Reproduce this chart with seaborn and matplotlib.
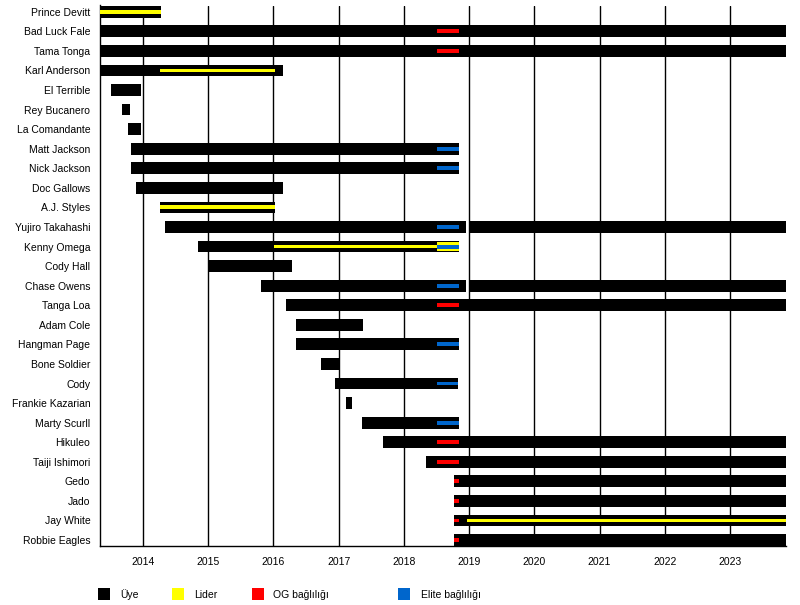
import matplotlib
matplotlib.use("Agg")
import matplotlib.pyplot as plt
from matplotlib.patches import Rectangle
import seaborn as sns
import pandas as pd

# ---------------- data ----------------
START = 2013.34   # founding (left edge)
NOW = 2023.86     # ongoing (right edge)

names = ["Prince Devitt", "Bad Luck Fale", "Tama Tonga", "Karl Anderson", "El Terrible",
         "Rey Bucanero", "La Comandante", "Matt Jackson", "Nick Jackson", "Doc Gallows",
         "A.J. Styles", "Yujiro Takahashi", "Kenny Omega", "Cody Hall", "Chase Owens",
         "Tanga Loa", "Adam Cole", "Hangman Page", "Bone Soldier", "Cody",
         "Frankie Kazarian", "Marty Scurll", "Hikuleo", "Taiji Ishimori", "Gedo",
         "Jado", "Jay White", "Robbie Eagles"]

member_name = ["Prince Devitt", "Bad Luck Fale", "Tama Tonga", "Karl Anderson", "El Terrible",
               "Rey Bucanero", "La Comandante", "Matt Jackson", "Nick Jackson", "Doc Gallows",
               "A.J. Styles", "Yujiro Takahashi", "Yujiro Takahashi", "Kenny Omega", "Cody Hall",
               "Chase Owens", "Chase Owens", "Tanga Loa", "Adam Cole", "Hangman Page",
               "Bone Soldier", "Cody", "Frankie Kazarian", "Marty Scurll", "Hikuleo",
               "Taiji Ishimori", "Gedo", "Jado", "Jay White", "Robbie Eagles"]
member_start = [START, START, START, START, 2013.51,
                2013.68, 2013.77, 2013.82, 2013.82, 2013.89,
                2014.26, 2014.34, 2019.00, 2014.84, 2015.00,
                2015.81, 2019.00, 2016.19, 2016.35, 2016.35,
                2016.73, 2016.94, 2017.11, 2017.36, 2017.68,
                2018.34, 2018.77, 2018.77, 2018.77, 2018.77]
member_end = [2014.28, NOW, NOW, 2016.15, 2013.97,
              2013.80, 2013.97, 2018.85, 2018.85, 2016.14,
              2016.02, 2018.95, NOW, 2018.85, 2016.28,
              2018.95, NOW, NOW, 2017.37, 2018.85,
              2017.01, 2018.83, 2017.20, 2018.85, NOW,
              NOW, NOW, NOW, NOW, NOW]

leader_name = ["Prince Devitt", "Karl Anderson", "A.J. Styles", "Kenny Omega", "Jay White"]
leader_start = [START, 2014.26, 2014.26, 2016.01, 2018.97]
leader_end = [2014.28, 2016.02, 2016.02, 2018.85, NOW]

og_name = ["Bad Luck Fale", "Tama Tonga", "Tanga Loa", "Hikuleo", "Taiji Ishimori",
           "Gedo", "Jado", "Jay White", "Robbie Eagles"]
og_start = [2018.51, 2018.51, 2018.51, 2018.51, 2018.51, 2018.77, 2018.77, 2018.77, 2018.77]
og_end = [2018.85, 2018.85, 2018.85, 2018.85, 2018.85, 2018.85, 2018.85, 2018.85, 2018.85]

elite_name = ["Matt Jackson", "Nick Jackson", "Yujiro Takahashi", "Kenny Omega",
              "Chase Owens", "Hangman Page", "Cody", "Marty Scurll"]
elite_start = [2018.51] * 8
elite_end = [2018.85, 2018.85, 2018.85, 2018.85, 2018.85, 2018.85, 2018.83, 2018.85]

years = list(range(2014, 2024))
legend_labels = ["Üye", "Lider", "OG bağlılığı", "Elite bağlılığı"]

# ---------------- style ----------------
sns.set_theme(style="white")
plt.rcParams["font.family"] = ["Liberation Sans", "DejaVu Sans"]

C_MEMBER = "#000000"
C_LEADER = "#FFFF00"
C_OG = "#FF0000"
C_ELITE = "#0066CC"

fig = plt.figure(figsize=(8, 6.05), dpi=100)
ax = fig.add_axes([100 / 800, 1 - 545.5 / 605, 686 / 800, 540 / 605])

row = {n: i for i, n in enumerate(names)}

members = pd.DataFrame({"name": member_name, "start": member_start, "end": member_end})
leaders = pd.DataFrame({"name": leader_name, "start": leader_start, "end": leader_end})
ogs = pd.DataFrame({"name": og_name, "start": og_start, "end": og_end})
elites = pd.DataFrame({"name": elite_name, "start": elite_start, "end": elite_end})

def draw(df, color, h, z):
    ax.barh([row[n] for n in df["name"]], df["end"] - df["start"], left=df["start"],
            height=h, color=color, edgecolor="none", linewidth=0, zorder=z)

draw(members, C_MEMBER, 0.60, 3)
draw(leaders, C_LEADER, 0.20, 4)
draw(ogs, C_OG, 0.20, 5)

# where an affiliation overlaps a leader period, the leader colour frames it
for _, e in elites.iterrows():
    for _, l in leaders.iterrows():
        if l["name"] == e["name"]:
            s, t = max(l["start"], e["start"]), min(l["end"], e["end"])
            if t > s:
                ax.barh(row[e["name"]], t - s, left=s, height=0.42, color=C_LEADER,
                        linewidth=0, zorder=4.5)
draw(elites, C_ELITE, 0.20, 5)

ax.set_xlim(START, NOW)
ax.set_ylim(len(names) - 1 + 0.28, -0.32)
ax.set_yticks(range(len(names)))
ax.set_yticklabels(names)
ax.set_xticks(years)
ax.set_xticklabels([str(y) for y in years])
ax.tick_params(axis="both", length=0, labelsize=7.5, colors="black")
ax.tick_params(axis="y", pad=7)
ax.tick_params(axis="x", pad=8.5)

ax.grid(axis="x", color="black", linewidth=1.0, zorder=0)
ax.grid(axis="y", visible=False)
ax.set_axisbelow(True)
for side in ["top", "right"]:
    ax.spines[side].set_visible(False)
for side in ["left", "bottom"]:
    ax.spines[side].set_color("black")
    ax.spines[side].set_linewidth(1.0)
    ax.spines[side].set_zorder(2)

# legend
leg_colors = [C_MEMBER, C_LEADER, C_OG, C_ELITE]
leg_box_x = [98.3, 172.3, 252.3, 398.3]
leg_text_x = [120, 194.3, 273.3, 420.7]
for c, bx, tx, lab in zip(leg_colors, leg_box_x, leg_text_x, legend_labels):
    fig.patches.append(Rectangle((bx / 800, 1 - 600 / 605), 12 / 800, 12.5 / 605,
                                 transform=fig.transFigure, facecolor=c, edgecolor="none"))
    fig.text(tx / 800, 1 - 594.5 / 605, lab, fontsize=7.5, color="black",
             ha="left", va="center")

fig.savefig("out.png", dpi=100)
